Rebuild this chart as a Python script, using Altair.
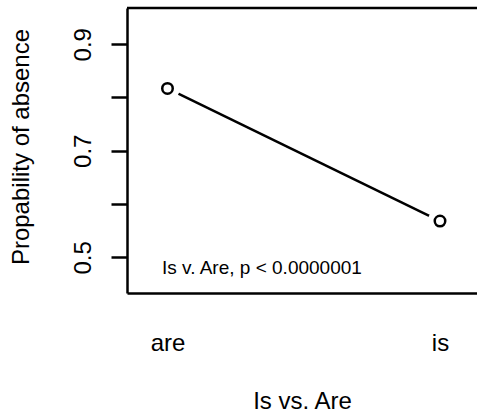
import altair as alt
import pandas as pd

# Probability of absence for "are" vs "is"
words = ["are", "is"]
positions = [1, 2]
absence = [0.817, 0.568]

y_ticks = [0.5, 0.6, 0.7, 0.8, 0.9]
y_labeled = [0.5, 0.7, 0.9]

note_text = "Is v. Are, p < 0.0000001"
note_x = 0.98
note_y = 0.469

x_domain = [0.8514, 2.1358]
y_domain = [0.433, 0.968]

FONT = "Liberation Sans"
INK = "black"
LW = 2.5
W, H = 350, 285

df = pd.DataFrame({"pos": positions, "word": words, "absence": absence})
one = pd.DataFrame({"k": [0]})

x_label_expr = " : ".join(
    f"datum.value == {p} ? '{w}'" for p, w in zip(positions, words)
) + " : ''"
y_label_expr = (
    "indexof([" + ",".join(str(v) for v in y_labeled) + "], datum.value) >= 0"
    " ? format(datum.value, '.1f') : ''"
)

x_enc = alt.X(
    "pos:Q",
    scale=alt.Scale(domain=x_domain, nice=False, zero=False),
    axis=alt.Axis(
        values=positions,
        labelExpr=x_label_expr,
        ticks=False,
        tickSize=0,
        grid=False,
        domain=True,
        domainColor=INK,
        domainWidth=LW,
        labelFont=FONT,
        labelFontSize=24,
        labelColor=INK,
        labelPadding=57,
        labelBaseline="alphabetic",
        labelFlush=False,
        title="Is vs. Are",
        titleFont=FONT,
        titleFontSize=24,
        titleFontWeight="normal",
        titleColor=INK,
        titleBaseline="alphabetic",
        titleY=115,
    ),
)

y_enc = alt.Y(
    "absence:Q",
    scale=alt.Scale(domain=y_domain, nice=False, zero=False),
    axis=alt.Axis(
        values=y_ticks,
        labelExpr=y_label_expr,
        grid=False,
        domain=True,
        domainColor=INK,
        domainWidth=LW,
        ticks=True,
        tickSize=16,
        tickWidth=LW,
        tickColor=INK,
        labelFont=FONT,
        labelFontSize=24,
        labelColor=INK,
        labelAngle=270,
        labelAlign="center",
        labelBaseline="alphabetic",
        labelPadding=21,
        labelOverlap=False,
        labelFlush=False,
        title="Propability of absence",
        titleFont=FONT,
        titleFontSize=24,
        titleFontWeight="normal",
        titleColor=INK,
        titleAngle=270,
        titleAlign="center",
        titleBaseline="alphabetic",
        titleX=-99,
        titleY=138.5,
    ),
)

base = alt.Chart(df)

line = base.mark_line(color=INK, strokeWidth=LW).encode(x=x_enc, y=y_enc)

# white discs break the line around each point
gaps = base.mark_point(
    shape="circle", filled=True, color="white", size=600, opacity=1
).encode(x="pos:Q", y="absence:Q")

points = base.mark_point(
    shape="circle", filled=False, color=INK, strokeWidth=LW, size=110, opacity=1
).encode(x="pos:Q", y="absence:Q")

top_edge = alt.Chart(one).mark_rule(color=INK, strokeWidth=LW).encode(
    x=alt.datum(x_domain[0]), x2=alt.datum(x_domain[1]), y=alt.datum(y_domain[1])
)

note = alt.Chart(one).mark_text(
    align="left", baseline="alphabetic", font=FONT, fontSize=19, color=INK
).encode(x=alt.datum(note_x), y=alt.datum(note_y), text=alt.value(note_text))

chart = (
    alt.layer(line, gaps, points, top_edge, note)
    .properties(
        width=W,
        height=H,
        autosize=alt.AutoSizeParams(type="none"),
        padding={"left": 127, "top": 8, "right": 0, "bottom": 121},
        background="white",
    )
    .configure_view(stroke=None)
)

chart.save("out.html", embed_options={"renderer": "svg", "actions": False})
